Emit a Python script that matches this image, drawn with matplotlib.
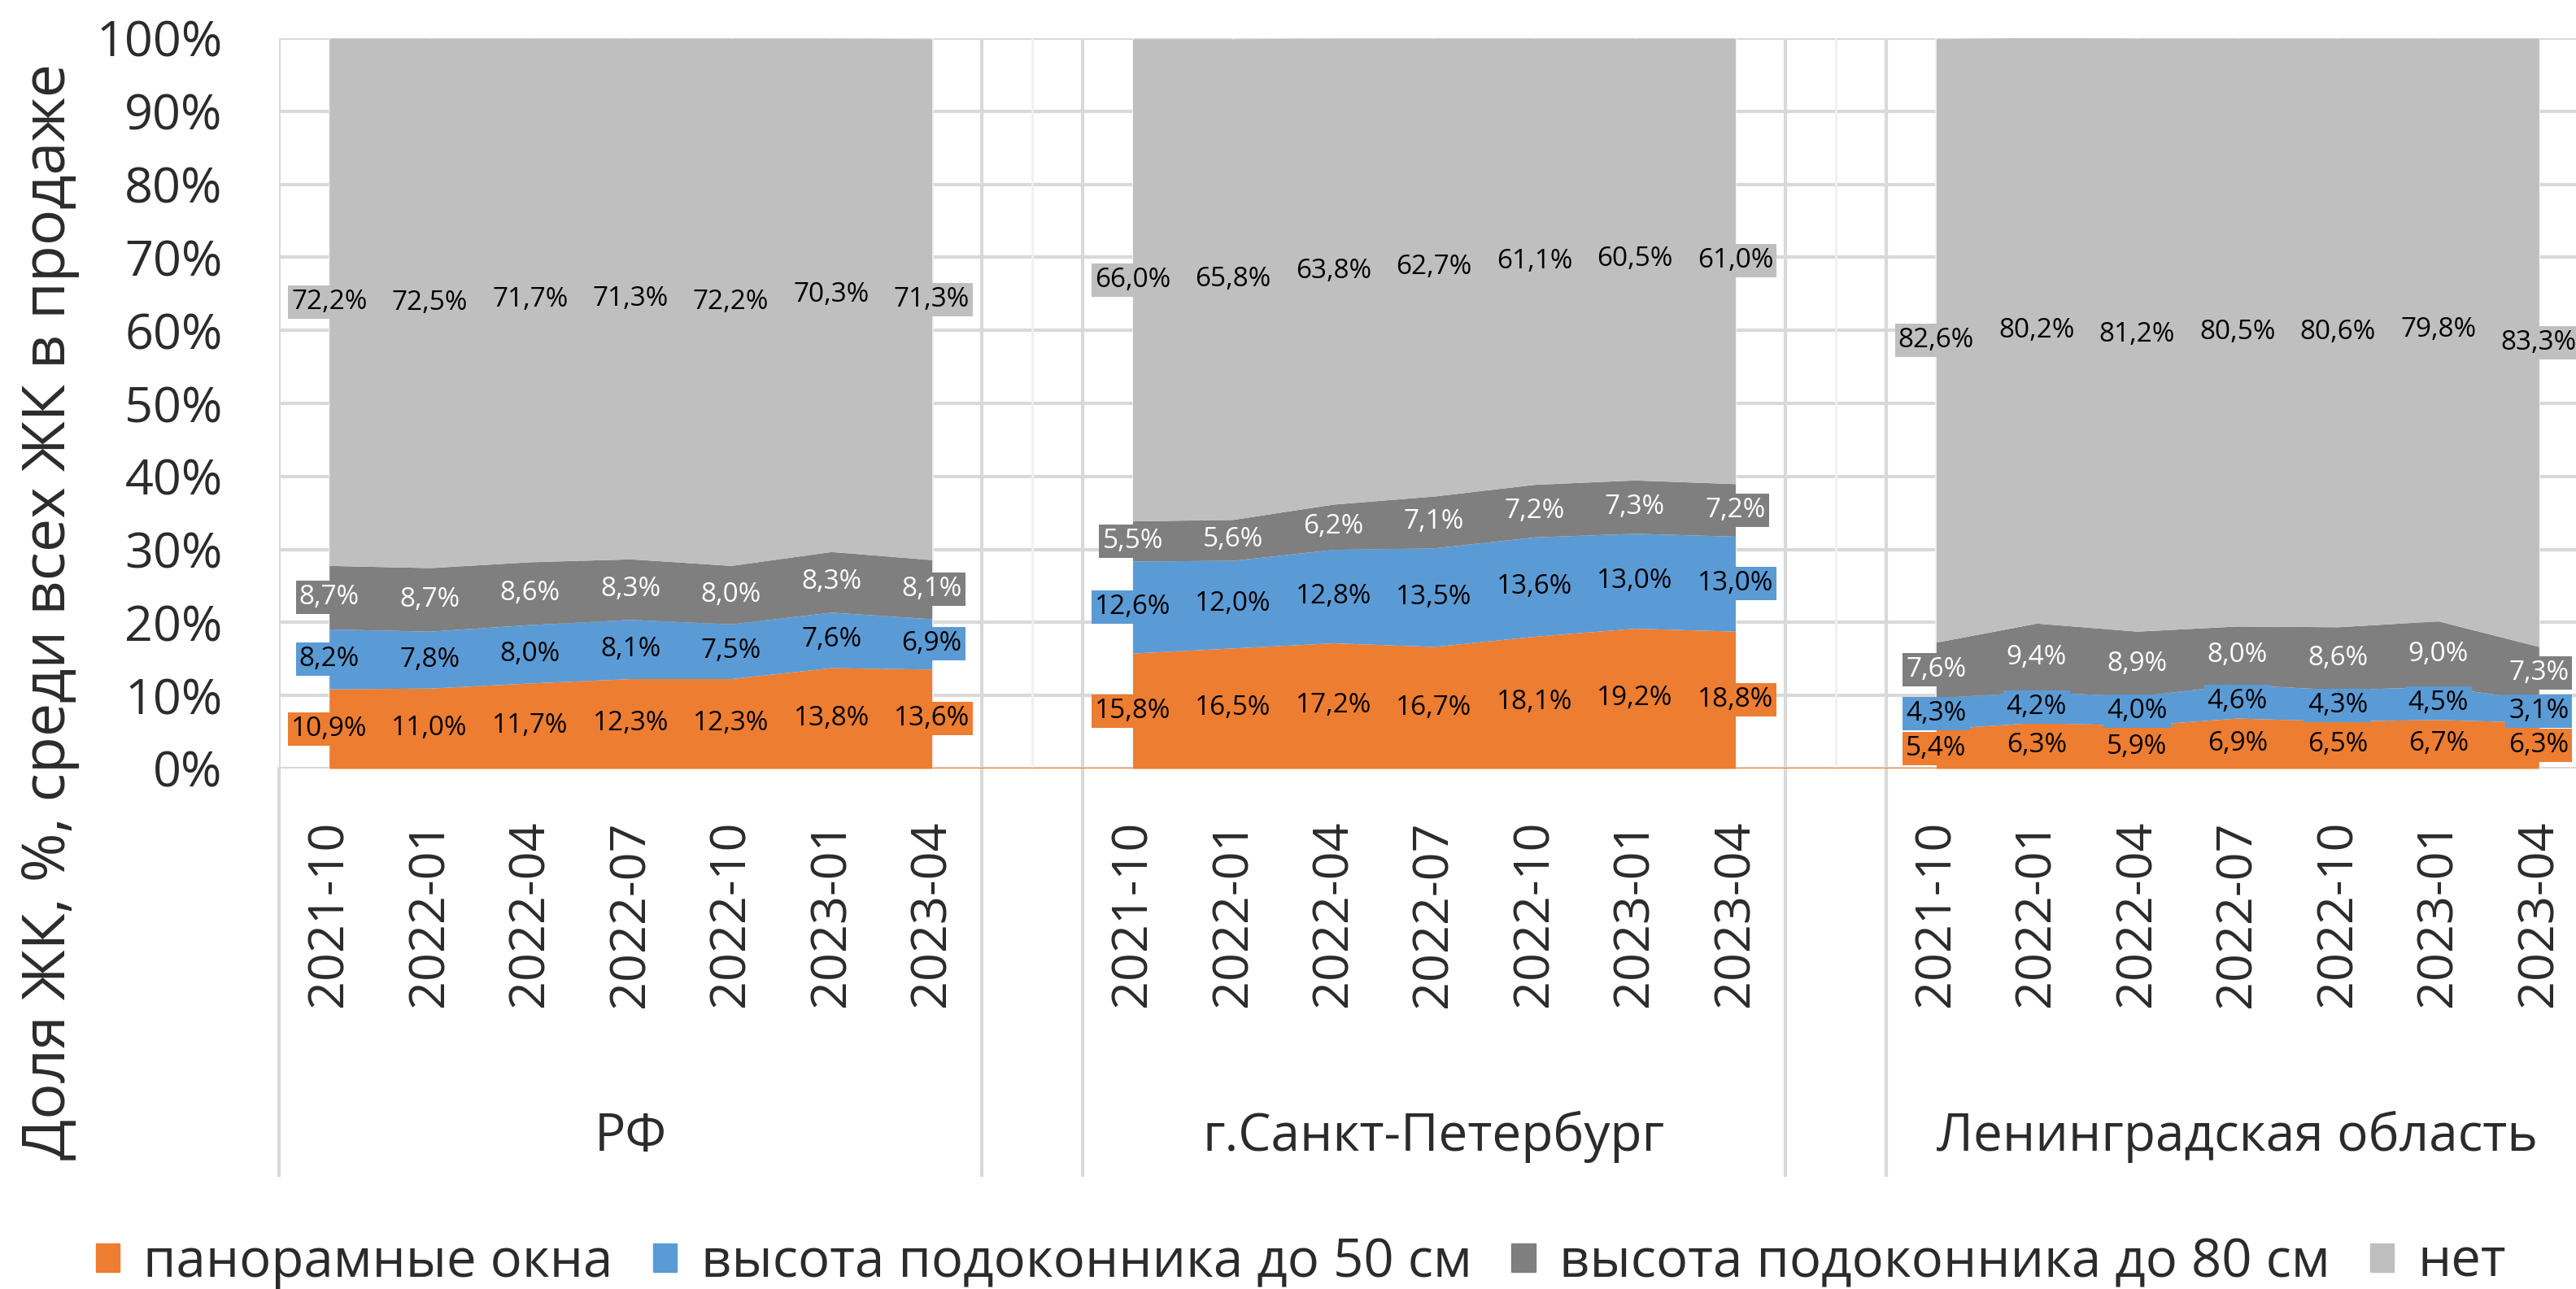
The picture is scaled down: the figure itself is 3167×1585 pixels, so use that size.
import numpy as np
import matplotlib
matplotlib.use('Agg')
import matplotlib.pyplot as plt
from matplotlib.patches import Patch

plt.rcParams['font.family'] = ['Open Sans', 'DejaVu Sans']

# data, %, one row per region
dates = ['2021-10', '2022-01', '2022-04', '2022-07', '2022-10', '2023-01', '2023-04']
regions = ['РФ', 'г.Санкт-Петербург', 'Ленинградская область']
series_names = ['панорамные окна', 'высота подоконника до 50 см',
                'высота подоконника до 80 см', 'нет']

panoramic = [[10.9, 11.0, 11.7, 12.3, 12.3, 13.8, 13.6],
             [15.8, 16.5, 17.2, 16.7, 18.1, 19.2, 18.8],
             [5.4, 6.3, 5.9, 6.9, 6.5, 6.7, 6.3]]
sill50 = [[8.2, 7.8, 8.0, 8.1, 7.5, 7.6, 6.9],
          [12.6, 12.0, 12.8, 13.5, 13.6, 13.0, 13.0],
          [4.3, 4.2, 4.0, 4.6, 4.3, 4.5, 3.1]]
sill80 = [[8.7, 8.7, 8.6, 8.3, 8.0, 8.3, 8.1],
          [5.5, 5.6, 6.2, 7.1, 7.2, 7.3, 7.2],
          [7.6, 9.4, 8.9, 8.0, 8.6, 9.0, 7.3]]
no_sill = [[72.2, 72.5, 71.7, 71.3, 72.2, 70.3, 71.3],
           [66.0, 65.8, 63.8, 62.7, 61.1, 60.5, 61.0],
           [82.6, 80.2, 81.2, 80.5, 80.6, 79.8, 83.3]]

series = [panoramic, sill50, sill80, no_sill]
colors = ['#ED7D31', '#5B9BD5', '#7F7F7F', '#BFBFBF']
label_colors = ['black', 'black', 'white', 'black']
grid_col = '#d9d9d9'
text_col = '#2b2b2b'

# figure size in pixels, layout measured on the reference
W, H = 3167, 1585
fig = plt.figure(figsize=(W/100, H/100), dpi=100)
ax_left, ax_right, ax_top, ax_bot = 343, 3183, 47, 945
ax = fig.add_axes([ax_left/W, (H-ax_bot)/H, (ax_right-ax_left)/W, (ax_bot-ax_top)/H])

ngroup = len(regions)
ndate = len(dates)
step = ndate + 1            # one empty category between groups
ncat = ngroup*step - 1

# gridlines
for y in range(0, 101, 10):
    ax.axhline(y, color=grid_col, lw=3, zorder=0)
for k in range(ncat + 1):
    ax.axvline(k - 0.5, color=grid_col, lw=3, zorder=0)
for k in range(ncat):
    ax.axvline(k, color='#f0f0f0', lw=2, zorder=0)

# stacked areas
ticks = []
for g in range(ngroup):
    x = np.arange(ndate) + g*step
    ticks += list(x)
    base = np.zeros(ndate)
    for s in range(len(series)):
        vals = np.array(series[s][g])
        ax.fill_between(x, base, base + vals, color=colors[s], lw=0, zorder=2)
        for xi, b, v in zip(x, base, vals):
            ax.text(xi, b + v/2, f'{v:.1f}%'.replace('.', ','),
                    ha='center', va='center', fontsize=24,
                    color=label_colors[s], zorder=4,
                    bbox=dict(boxstyle='square,pad=0.12', fc=colors[s], ec='none'))
        base = base + vals
    if g < ngroup - 1:
        ax.plot([x[-1], x[-1] + 2], [0, 0], color=colors[0], lw=1.5, zorder=3)

# group separators below the axis
sep_y = -(1445 - ax_bot)/(ax_bot - ax_top)
trans = ax.get_xaxis_transform()
for g in range(ngroup):
    for xb in (g*step - 0.5, g*step + ndate - 0.5):
        ax.plot([xb, xb], [0, sep_y], color=grid_col, lw=3,
                transform=trans, clip_on=False, zorder=0)
    ax.text(g*step + (ndate - 1)/2, -(1398 - ax_bot)/(ax_bot - ax_top), regions[g],
            transform=trans, ha='center', va='center', fontsize=46, color=text_col)

ax.set_xlim(-0.5, ncat - 0.5)
ax.set_ylim(0, 100)
ax.set_yticks(range(0, 101, 10))
ax.set_yticklabels([f'{v}%' for v in range(0, 101, 10)])
ax.set_xticks(ticks)
ax.set_xticklabels(dates*ngroup, rotation=90)
ax.tick_params(axis='y', length=0, pad=50, labelsize=44, labelcolor=text_col)
ax.tick_params(axis='x', length=0, pad=46, labelsize=44, labelcolor=text_col)
for sp in ax.spines.values():
    sp.set_visible(False)

fig.text(61/W, (H-752)/H, 'Доля ЖК, %, среди всех ЖК в продаже', rotation=90,
         ha='center', va='center', fontsize=53, color=text_col)

handles = [Patch(color=c, label=n) for c, n in zip(colors, series_names)]
fig.legend(handles=handles, loc='center', bbox_to_anchor=(0.505, (H-1553)/H),
           ncol=4, frameon=False, fontsize=47, labelcolor=text_col,
           handlelength=0.45, handleheight=0.45, handletextpad=0.45,
           columnspacing=0.75, borderpad=0)

fig.savefig('out.png', dpi=100)
